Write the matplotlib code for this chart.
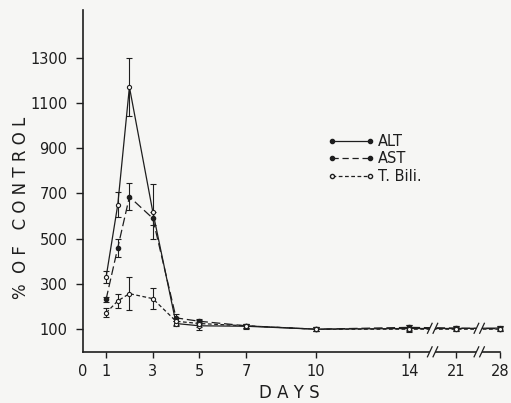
import numpy as np
import matplotlib
matplotlib.use('Agg')
import matplotlib.pyplot as plt
from matplotlib.lines import Line2D

days = [1, 1.5, 2, 3, 4, 5, 7, 10, 14, 21, 28]
alt = [330, 650, 1170, 620, 125, 115, 113, 100, 103, 103, 105]
alt_err = [28, 55, 130, 120, 12, 18, 10, 8, 15, 10, 10]
ast = [232, 460, 685, 590, 150, 135, 115, 100, 108, 105, 102]
ast_err = [10, 40, 60, 30, 15, 10, 8, 8, 10, 10, 10]
tbili = [172, 225, 257, 235, 135, 125, 115, 100, 100, 100, 100]
tbili_err = [20, 30, 73, 45, 15, 15, 8, 8, 10, 10, 10]

xtick_days = [1, 3, 5, 7, 10, 14, 21, 28]
ytick_vals = [100, 300, 500, 700, 900, 1100, 1300]

# broken axis: linear up to day 14, then compressed
def xpos(d):
    d = np.asarray(d, dtype=float)
    return np.where(d <= 14, d, 16 + (d - 21) / 7 * 1.9)

bg = '#f6f6f4'
ink = '#1e1e1e'
fig = plt.figure(figsize=(5.11, 4.03), dpi=100, facecolor=bg)
ax = fig.add_axes([0.162, 0.127, 0.826, 0.848], facecolor=bg)

x = xpos(days)
kw = dict(color=ink, lw=0.9, ms=3, capsize=2.5, elinewidth=0.8, capthick=0.8)
ax.errorbar(x, alt, yerr=alt_err, fmt='-o', mfc=bg, mec=ink, mew=0.8, **kw)
ax.errorbar(x, ast, yerr=ast_err, fmt='--o', dashes=(7, 3), mfc=ink, mec=ink, **kw)
ax.errorbar(x, tbili, yerr=tbili_err, fmt='--o', dashes=(3, 2), mfc=bg, mec=ink, mew=0.8, **kw)

ax.set_xlim(0, 18.1)
ax.set_ylim(0, 1510)
for s in ['top', 'right']:
    ax.spines[s].set_visible(False)
for s in ['left', 'bottom']:
    ax.spines[s].set_color(ink)
    ax.spines[s].set_linewidth(1.2)
ax.spines['bottom'].set_bounds(0, float(xpos(28)))

ax.set_xticks(list(xpos(xtick_days)) + [0])
ax.set_xticklabels([str(d) for d in xtick_days] + ['0'])
ax.set_yticks(ytick_vals)
ax.set_yticklabels([str(v) for v in ytick_vals])
ax.tick_params(colors=ink, labelsize=10.5, length=5, width=1, direction='out', pad=6)
ax.tick_params(axis='x', length=4, pad=5)
ax.xaxis.get_major_ticks()[-1].tick1line.set_visible(False)

ax.set_ylabel('%  O F   C O N T R O L', fontsize=12, color=ink)
ax.yaxis.set_label_coords(-0.125, 0.42)
ax.set_xlabel('D A Y S', fontsize=12, color=ink)
ax.xaxis.set_label_coords(0.49, -0.095)

# break marks on the axis and on the data
for b in [15.0, 17.0]:
    for yc in [0, 104]:
        ax.add_patch(plt.Rectangle((b - 0.12, yc - 25), 0.24, 50, facecolor=bg,
                                   edgecolor='none', zorder=4, clip_on=False))
        for off in [-0.12, 0.12]:
            ax.plot([b + off - 0.1, b + off + 0.1], [yc - 22, yc + 22], color=ink,
                    lw=0.9, zorder=5, clip_on=False)

handles = [
    Line2D([], [], color=ink, lw=0.9, marker='o', ms=3, mfc=ink),
    Line2D([], [], color=ink, lw=0.9, ls='--', dashes=(5, 3), marker='o', ms=3, mfc=ink),
    Line2D([], [], color=ink, lw=0.9, ls='--', dashes=(3, 2), marker='o', ms=3, mfc=bg),
]
leg = ax.legend(handles, ['ALT', 'AST', 'T. Bili.'], loc='upper left',
                bbox_to_anchor=(0.55, 0.675), frameon=False, numpoints=2,
                handlelength=3.2, handletextpad=0.2, labelspacing=0.15, fontsize=10.5)
for t in leg.get_texts():
    t.set_color(ink)

fig.savefig('out.png', dpi=100, facecolor=bg)
